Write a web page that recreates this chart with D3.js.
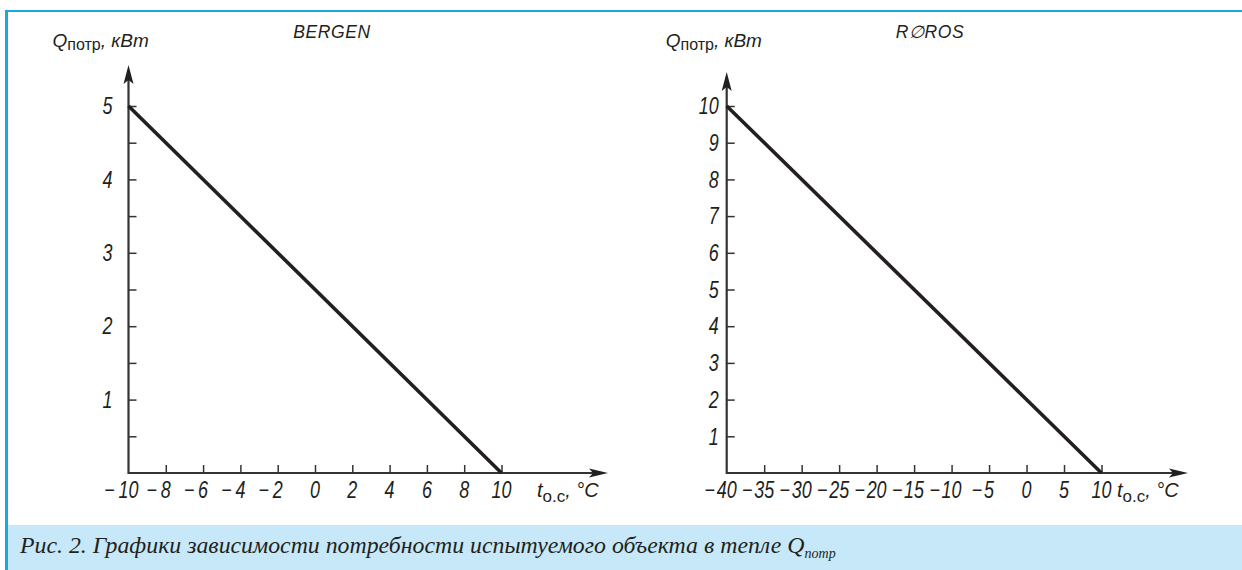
<!DOCTYPE html>
<html>
<head>
<meta charset="utf-8">
<script src="https://cdn.jsdelivr.net/npm/d3@7/dist/d3.min.js"></script>
<style>
  html, body { margin: 0; padding: 0; background: #fff; }
  svg { display: block; }
  .tick-label { font-family: "Liberation Sans", Arial, sans-serif; font-style: italic; font-size: 23px; fill: #231f20; }
  .sans-it { font-family: "Liberation Sans", Arial, sans-serif; font-style: italic; fill: #231f20; }
  .sans { font-family: "Liberation Sans", Arial, sans-serif; fill: #231f20; }
  .caption { font-family: "Liberation Serif", "Times New Roman", serif; font-style: italic; fill: #231f20; }
</style>
</head>
<body>
<svg id="chart" width="1242" height="570"></svg>
<script>
// Heat demand of the test object vs outdoor temperature, two sites
const bergenTemp = [-10, 10];
const bergenLoad = [5, 0];
const rorosTemp = [-40, 10];
const rorosLoad = [10, 0];

const bergenXTicks = [-10, -8, -6, -4, -2, 0, 2, 4, 6, 8, 10];
const bergenYLabels = [1, 2, 3, 4, 5];
const bergenYMarks = [0.5, 1, 1.5, 2, 2.5, 3, 3.5, 4, 4.5, 5];
const rorosXTicks = [-40, -35, -30, -25, -20, -15, -10, -5, 0, 5, 10];
const rorosYLabels = [1, 2, 3, 4, 5, 6, 7, 8, 9, 10];
const rorosYMarks = [1, 2, 3, 4, 5, 6, 7, 8, 9, 10];

const panelTitles = ["BERGEN", "R\u2205ROS"];
const captionText = "Рис. 2. Графики зависимости потребности испытуемого объекта в тепле Q";
const captionSub = "потр";

const INK = "#231f20";
const AXIS = "#333333";
const BLUE = "#1aa7df";
const PALE = "#c6e8f8";
const NARROW = 0.78; // horizontal squeeze for the condensed tick numerals

const svg = d3.select("#chart");

// frame and caption band
svg.append("rect").attr("x", 5).attr("y", 525).attr("width", 1237).attr("height", 45).attr("fill", PALE);
svg.append("rect").attr("x", 5).attr("y", 10).attr("width", 1237).attr("height", 2).attr("fill", BLUE);
svg.append("rect").attr("x", 5).attr("y", 10).attr("width", 3).attr("height", 560).attr("fill", BLUE);

const cap = svg.append("text").attr("class", "caption").attr("x", 20).attr("y", 553).attr("font-size", 23.8);
cap.append("tspan").text(captionText);
cap.append("tspan").attr("font-size", 14).attr("dy", 5).text(captionSub);

// a numeral squeezed horizontally about its anchor point
function numeral(parent, x, y, str, anchor, dy) {
  const g = parent.append("g").attr("transform", `translate(${x},${y}) scale(${NARROW},1)`);
  return g.append("text").attr("class", "tick-label").attr("text-anchor", anchor)
    .attr("dy", dy || 0).text(str);
}

function panel(cfg) {
  const g = svg.append("g");
  const x = d3.scaleLinear().domain(cfg.xDomain).range(cfg.xRange);
  const y = d3.scaleLinear().domain(cfg.yDomain).range(cfg.yRange);
  const x0 = x(cfg.xDomain[0]);
  const y0 = y(0);

  // x tick marks (pointing up into the plot)
  const xa = d3.axisBottom(x).tickValues(cfg.xTicks.filter(v => v !== cfg.xDomain[0]))
    .tickSizeInner(-8).tickSizeOuter(0).tickFormat("");
  const gx = g.append("g").attr("transform", `translate(0,${y0})`).call(xa);
  gx.select(".domain").remove();
  gx.selectAll(".tick line").attr("stroke", AXIS).attr("stroke-width", 1.5);

  // y tick marks (pointing right into the plot)
  const ya = d3.axisLeft(y).tickValues(cfg.yMarks).tickSizeInner(-8).tickSizeOuter(0).tickFormat("");
  const gy = g.append("g").attr("transform", `translate(${x0},0)`).call(ya);
  gy.select(".domain").remove();
  gy.selectAll(".tick line").attr("stroke", AXIS).attr("stroke-width", 1.5);

  // axis lines with arrow heads
  g.append("line").attr("x1", x0).attr("x2", cfg.xArrow - 14).attr("y1", y0).attr("y2", y0)
    .attr("stroke", AXIS).attr("stroke-width", 2.2);
  g.append("path").attr("d", `M${cfg.xArrow},${y0} L${cfg.xArrow - 19},${y0 - 4.5} L${cfg.xArrow - 15},${y0} L${cfg.xArrow - 19},${y0 + 4.5} Z`)
    .attr("fill", INK);
  g.append("line").attr("x1", x0).attr("x2", x0).attr("y1", y0 + 1).attr("y2", cfg.yArrow + 14)
    .attr("stroke", AXIS).attr("stroke-width", 2.2);
  g.append("path").attr("d", `M${x0},${cfg.yArrow} L${x0 - 5},${cfg.yArrow + 19} L${x0},${cfg.yArrow + 15} L${x0 + 5},${cfg.yArrow + 19} Z`)
    .attr("fill", INK);

  // x tick labels: digits centred on the tick, minus sign set before them
  cfg.xTicks.forEach(v => {
    const t = numeral(g, x(v), 498, String(Math.abs(v)), "middle");
    if (v < 0) {
      const w = t.node().getComputedTextLength() * NARROW;
      numeral(g, x(v) - w / 2 - cfg.minusGap, 498, "\u2212", "end");
    }
  });

  // y tick labels
  cfg.yLabels.forEach(v => numeral(g, x0 - cfg.yLabelGap, y(v), String(v), "end", "0.36em"));

  // demand line
  const line = d3.line().x(d => x(d[0])).y(d => y(d[1]));
  g.append("path").datum(d3.zip(cfg.temp, cfg.load)).attr("d", line)
    .attr("fill", "none").attr("stroke", INK).attr("stroke-width", 3.6).attr("stroke-linecap", "butt");

  // panel title
  g.append("text").attr("class", "sans-it").attr("x", cfg.titleX).attr("y", 38)
    .attr("font-size", 17.5).attr("letter-spacing", 0.6).attr("text-anchor", "middle").text(cfg.title);

  // y axis caption
  const q = g.append("text").attr("x", x0 - cfg.qOffset).attr("y", 47).attr("font-size", 19);
  q.append("tspan").attr("class", "sans-it").text("Q");
  q.append("tspan").attr("class", "sans").attr("font-size", 16).attr("dy", 3).text("потр");
  q.append("tspan").attr("class", "sans-it").attr("dy", -3).text(", кВт");

  // x axis caption
  const tx = g.append("text").attr("x", cfg.tX).attr("y", 497).attr("font-size", 20);
  tx.append("tspan").attr("class", "sans-it").text("t");
  tx.append("tspan").attr("class", "sans").attr("font-size", 17).attr("dy", 5).text("о.с");
  tx.append("tspan").attr("class", "sans-it").attr("dy", -5).text(", \u00b0C");
}

panel({
  title: panelTitles[0], titleX: 332,
  temp: bergenTemp, load: bergenLoad,
  xDomain: [-10, 10], xRange: [128.5, 501.5],
  yDomain: [0, 5], yRange: [473, 106],
  xTicks: bergenXTicks, yLabels: bergenYLabels, yMarks: bergenYMarks,
  xArrow: 608, yArrow: 65, yLabelGap: 16, qOffset: 76, tX: 537, minusGap: 4
});

panel({
  title: panelTitles[1], titleX: 930,
  temp: rorosTemp, load: rorosLoad,
  xDomain: [-40, 10], xRange: [726.7, 1101.5],
  yDomain: [0, 10], yRange: [473, 106],
  xTicks: rorosXTicks, yLabels: rorosYLabels, yMarks: rorosYMarks,
  xArrow: 1188, yArrow: 72, yLabelGap: 8, qOffset: 61, tX: 1117, minusGap: 2
});
</script>
</body>
</html>
